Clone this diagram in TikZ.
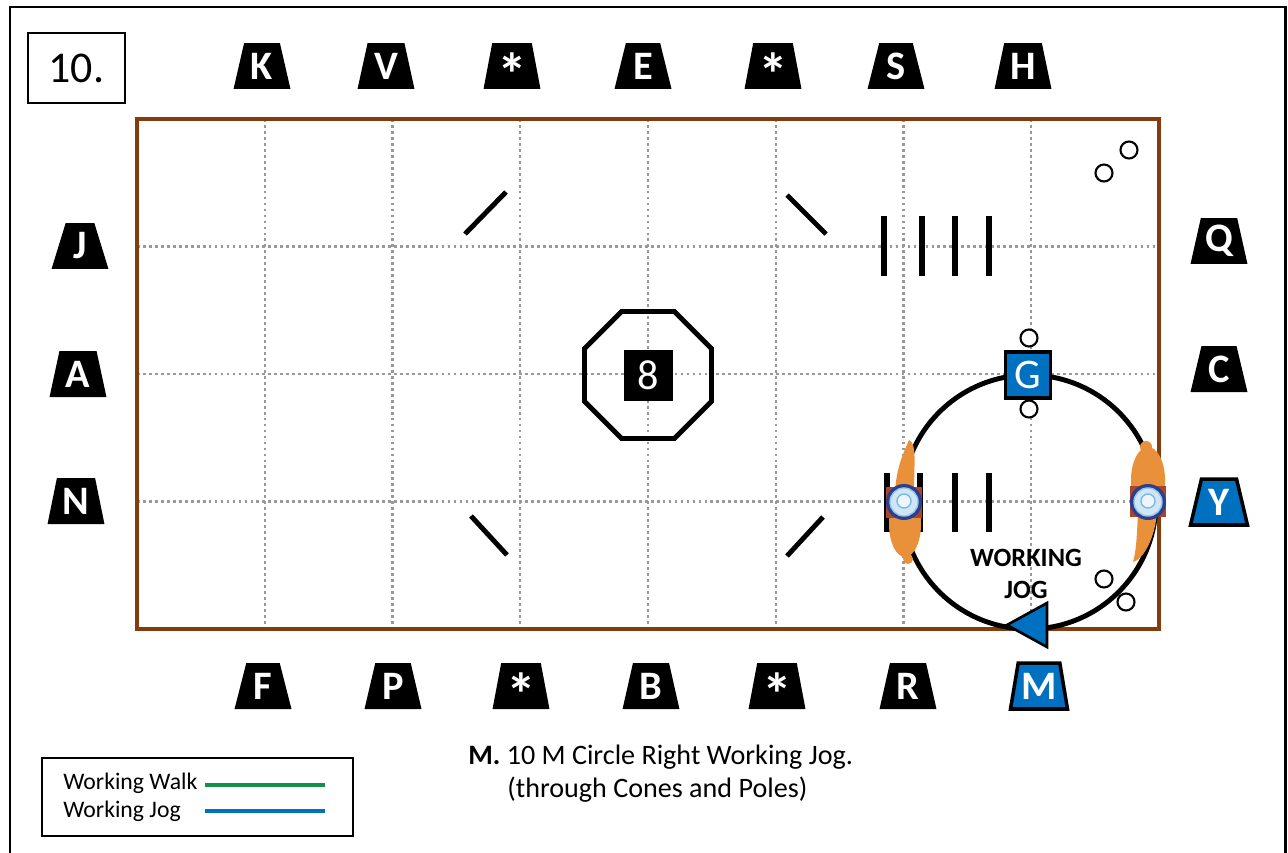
\documentclass[tikz,border=0pt]{standalone}
\usepackage{fontspec}
\setmainfont{Carlito}
\usetikzlibrary{shapes.geometric}

\definecolor{arenabrown}{HTML}{843C0C}
\definecolor{markblue}{HTML}{0070C0}
\definecolor{walkgreen}{HTML}{12904A}
\definecolor{horseorange}{HTML}{E9913A}
\definecolor{gridgray}{HTML}{999999}
\definecolor{riderlight}{HTML}{CFE6F7}
\definecolor{riderdark}{HTML}{2B3F8F}
\definecolor{saddlered}{HTML}{A8452C}

\newcommand{\quarterstar}{\vphantom{K}\smash{\raisebox{-0.40em}{\fontsize{34}{34}\selectfont *}}}

\tikzset{
  letter/.style={trapezium, trapezium left angle=76, trapezium right angle=76,
    trapezium stretches=true, minimum width=1.14cm, minimum height=0.92cm,
    inner sep=0pt, fill=black, text=white, font=\fontsize{23}{23}\selectfont\bfseries},
  blueletter/.style={letter, fill=markblue, draw=black, line width=2pt},
  pole/.style={line width=3.4pt, black},
  cone/.style={circle, draw=black, line width=1.2pt, fill=white, minimum size=0.34cm, inner sep=0pt},
  gridline/.style={gridgray, line width=1.4pt, dash pattern=on 1.6pt off 1.8pt},
}

\begin{document}
\begin{tikzpicture}[x=0.02cm, y=-0.02cm]
    \useasboundingbox (0,0) rectangle (1288,852);
    \fill[white] (0,0) rectangle (1288,852);

    % page frame and number
    \draw[line width=1.7pt] (10,900) -- (10,7) -- (1285,7) -- (1285,900);
    \node[draw, line width=1.3pt, minimum width=1.94cm, minimum height=1.4cm,
        font=\fontsize{25}{25}\selectfont] (num) at (76.5,68) {10.};

    % arena grid
    \foreach \i in {1,...,7}
        \draw[gridline] ({137+127.75*\i},119) -- ({137+127.75*\i},629);
    \foreach \j in {1,2,3}
        \draw[gridline] (137,{119+127.5*\j}) -- (1159,{119+127.5*\j});
    \draw[arenabrown, line width=2.3pt] (137,119) rectangle (1159,629);

    % letters round the arena
    \node[letter] (K) at (262,66) {K};
    \node[letter] (V) at (386,66) {V};
    \node[letter] (T1) at (512,66) {\quarterstar};
    \node[letter] (E) at (643,66) {E};
    \node[letter] (T2) at (773,66) {\quarterstar};
    \node[letter] (S) at (896,66) {S};
    \node[letter] (H) at (1023,66) {H};

    \node[letter] (F) at (263,686) {F};
    \node[letter] (P) at (393,686) {P};
    \node[letter] (B1) at (521,686) {\quarterstar};
    \node[letter] (B) at (651,686) {B};
    \node[letter] (B2) at (777,686) {\quarterstar};
    \node[letter] (R) at (908,686) {R};
    \node[blueletter] (M) at (1039,686) {M};

    \node[letter] (J) at (80,246) {J};
    \node[letter] (A) at (78,374) {A};
    \node[letter] (N) at (76,501) {N};
    \node[letter] (Q) at (1219,241) {Q};
    \node[letter] (C) at (1219,369) {C};
    \node[blueletter] (Y) at (1219,502) {Y};

    % diagonal poles and centre octagon
    \draw[pole, line width=2.8pt] (465,234) -- (506,192);
    \draw[pole, line width=2.8pt] (787,195) -- (826,234);
    \draw[pole, line width=2.8pt] (471,516) -- (507,555);
    \draw[pole, line width=2.8pt] (787,556) -- (823,517);
    \node[regular polygon, regular polygon sides=8, draw, line width=2.8pt,
        minimum size=2.75cm] (oct) at (648,375) {};
    \node[fill=black, text=white, minimum width=0.98cm, minimum height=1.02cm,
        inner sep=0pt, font=\fontsize{24}{24}\selectfont] (eight) at (648,375) {8};

    % ground poles
    \foreach \x in {884,922,955,989}
        \draw[pole] (\x,216) -- (\x,276);
    \foreach \x in {887,920,955,989}
        \draw[pole] (\x,473) -- (\x,532);

    % the circle
    \coordinate (ctr) at (1029,502);
    \draw[line width=2.8pt] (ctr) circle (127);

    % horse going up on the left
    \begin{scope}[shift={(904,502)}]
        \fill[horseorange] (1,22) ellipse [x radius=16, y radius=33];
        \fill[horseorange] (4,57) circle (5);
        \fill[horseorange] (-9,-8) .. controls (-8,-35) and (0,-50) .. (5,-62)
            .. controls (13,-58) and (10,-40) .. (10,-8) -- cycle;
        \fill[saddlered] (-18,-15) rectangle (18,16);
        \fill[riderdark] (0,0) circle (18);
        \draw[markblue!40, fill=riderlight, line width=0.8pt] (0,0) circle (14);
        \draw[markblue!50, fill=white!60!riderlight, line width=0.8pt] (0,-1) circle (7);
    \end{scope}

    % horse going down on the right
    \begin{scope}[shift={(1148,502)}, yscale=-1]
        \fill[horseorange] (0,22) ellipse [x radius=17, y radius=33];
        \fill[horseorange] (-2,55) circle (6);
        \fill[horseorange] (-10,-8) .. controls (-11,-35) and (-12,-50) .. (-15,-60)
            .. controls (-5,-58) and (8,-35) .. (9,-8) -- cycle;
        \fill[saddlered] (-18,-15) rectangle (18,16);
        \fill[riderdark] (0,0) circle (18);
        \draw[markblue!40, fill=riderlight, line width=0.8pt] (0,0) circle (14);
        \draw[markblue!50, fill=white!60!riderlight, line width=0.8pt] (0,1) circle (7);
    \end{scope}

    % G marker and cones
    \node[fill=markblue, draw=black, line width=2.2pt, minimum width=0.9cm,
        minimum height=0.92cm, inner sep=0pt, text=white,
        font=\fontsize{24}{24}\selectfont] (G) at (1028,375) {G};
    \node[cone] (c1) at (1129,150) {};
    \node[cone] (c2) at (1104,173) {};
    \node[cone] (c3) at (1029,338) {};
    \node[cone] (c4) at (1029,409) {};
    \node[cone] (c5) at (1104,579) {};
    \node[cone] (c6) at (1126,602) {};

    % direction arrow
    \filldraw[fill=markblue, draw=black, line width=1.5pt]
        (1007,625) -- (1047,603) -- (1047,647) -- cycle;
    \node[font=\fontsize{15}{18}\selectfont\bfseries, align=center] (jog) at (1026,574) {WORKING\\JOG};

    % caption
    \node[anchor=west, inner sep=0pt, font=\fontsize{16}{16}\selectfont] (cap1) at (468,757)
        {\textbf{M.} 10 M Circle Right Working Jog.};
    \node[anchor=west, inner sep=0pt, font=\fontsize{16}{16}\selectfont] (cap2) at (507,790)
        {(through Cones and Poles)};

    % key
    \draw[line width=1.2pt] (42,758) rectangle (353,836);
    \node[anchor=west, inner sep=0pt, font=\fontsize{13.5}{13.5}\selectfont] (walk) at (63,783) {Working Walk};
    \node[anchor=west, inner sep=0pt, font=\fontsize{13.5}{13.5}\selectfont] (jogkey) at (63,811) {Working Jog};
    \draw[walkgreen, line width=2.8pt] (205,785) -- (325,785);
    \draw[markblue, line width=2.8pt] (205,811) -- (325,811);
\end{tikzpicture}
\end{document}
